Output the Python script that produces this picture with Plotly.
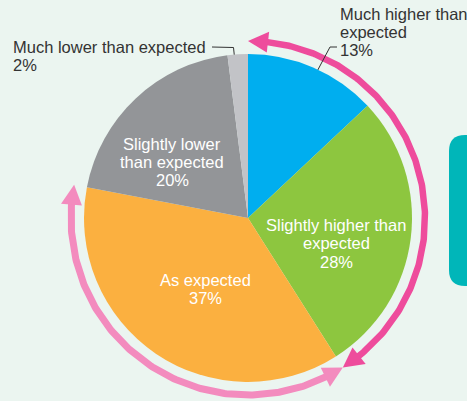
import numpy as np
import plotly.graph_objects as go

# ---- data ----
categories = ["Much higher than expected", "Slightly higher than expected",
              "As expected", "Slightly lower than expected", "Much lower than expected"]
shares = [13, 28, 37, 20, 2]
slice_colors = ["#00AEEF", "#8DC63F", "#FBB040", "#939598", "#C2C3C7"]
label_lines = [["Much higher than", "expected"],
               ["Slightly higher than", "expected"],
               ["As expected"],
               ["Slightly lower", "than expected"],
               ["Much lower than expected"]]

W, H = 467, 401
CX, CY, RP = 248, 218, 164
BG = "#EBF5F0"
TXT = "#333333"
FONT = "Liberation Sans, Arial, sans-serif"
FS = 16.5
LS = 18.3

fig = go.Figure()
fig.add_trace(go.Pie(
    values=shares, labels=categories, sort=False, direction="clockwise", rotation=0,
    marker=dict(colors=slice_colors, line=dict(width=0)),
    textinfo="none", hoverinfo="label+percent", showlegend=False,
    domain=dict(x=[(CX - RP) / W, (CX + RP) / W], y=[1 - (CY + RP) / H, 1 - (CY - RP) / H]),
))

# slice boundaries (math degrees), derived from data
tot = float(sum(shares))
bounds = 90 - 360 * np.concatenate([[0], np.cumsum(shares)]) / tot

R = 177
HL, HW = 20, 10.5


def pt(deg, r):
    t = np.radians(deg)
    return CX + r * np.cos(t), CY - r * np.sin(t)


def add_arc(t_start, t_end, color, width):
    d = np.degrees(HL / R)
    sgn = 1 if t_end > t_start else -1
    t = np.linspace(t_start + sgn * d * 0.9, t_end - sgn * d * 0.9, 200)
    x, y = pt(t, R)
    fig.add_trace(go.Scatter(x=x, y=y, mode="lines", line=dict(color=color, width=width),
                             hoverinfo="skip", showlegend=False, xaxis="x", yaxis="y"))
    for tip, base in [(t_start, t_start + sgn * d), (t_end, t_end - sgn * d)]:
        tx, ty = pt(tip, R)
        b1x, b1y = pt(base, R + HW)
        b2x, b2y = pt(base, R - HW)
        fig.add_trace(go.Scatter(x=[tx, b1x, b2x, tx], y=[ty, b1y, b2y, ty], mode="lines",
                                 fill="toself", fillcolor=color, line=dict(width=0, color=color),
                                 hoverinfo="skip", showlegend=False, xaxis="x", yaxis="y"))


add_arc(bounds[0], bounds[2], "#EE4C9C", 6.5)   # higher than expected
add_arc(bounds[2], bounds[3], "#F38BBE", 7)     # as expected

# leader lines
fig.add_trace(go.Scatter(x=[337, 330, 313], y=[47, 47, 79], mode="lines",
                         line=dict(color=TXT, width=1), hoverinfo="skip", showlegend=False))
fig.add_trace(go.Scatter(x=[212, 233.5, 235.5], y=[47, 47.5, 67], mode="lines",
                         line=dict(color=TXT, width=1), hoverinfo="skip", showlegend=False))

# labels: (x, first baseline, anchor, color)
label_pos = [(338, 19.3, "left", TXT),
             (336, 230.7, "center", "white"),
             (205, 285.7, "center", "white"),
             (172, 149.3, "center", "white"),
             (10.5, 52.7, "left", TXT)]
annotations = []
for lines, v, (x, b0, anc, col) in zip(label_lines, shares, label_pos):
    for i, s in enumerate(lines + [f"{v}%"]):
        annotations.append(dict(x=x, y=b0 + i * LS - 0.35 * FS, xref="x", yref="y",
                                text=s, showarrow=False, xanchor=anc, yanchor="middle",
                                font=dict(family=FONT, size=FS, color=col)))

fig.update_layout(
    width=W, height=H, margin=dict(l=0, r=0, t=0, b=0),
    paper_bgcolor=BG, plot_bgcolor=BG,
    xaxis=dict(range=[0, W], domain=[0, 1], visible=False, fixedrange=True),
    yaxis=dict(range=[H, 0], domain=[0, 1], visible=False, fixedrange=True),
    annotations=annotations,
    shapes=[dict(type="path", xref="x", yref="y", layer="below",
                 path="M 490,135 L 465,135 Q 449,135 449,151 L 449,270 Q 449,286 465,286 L 490,286 Z",
                 fillcolor="#00B6B9", line=dict(width=0))],
)

fig.write_html("out.html")
